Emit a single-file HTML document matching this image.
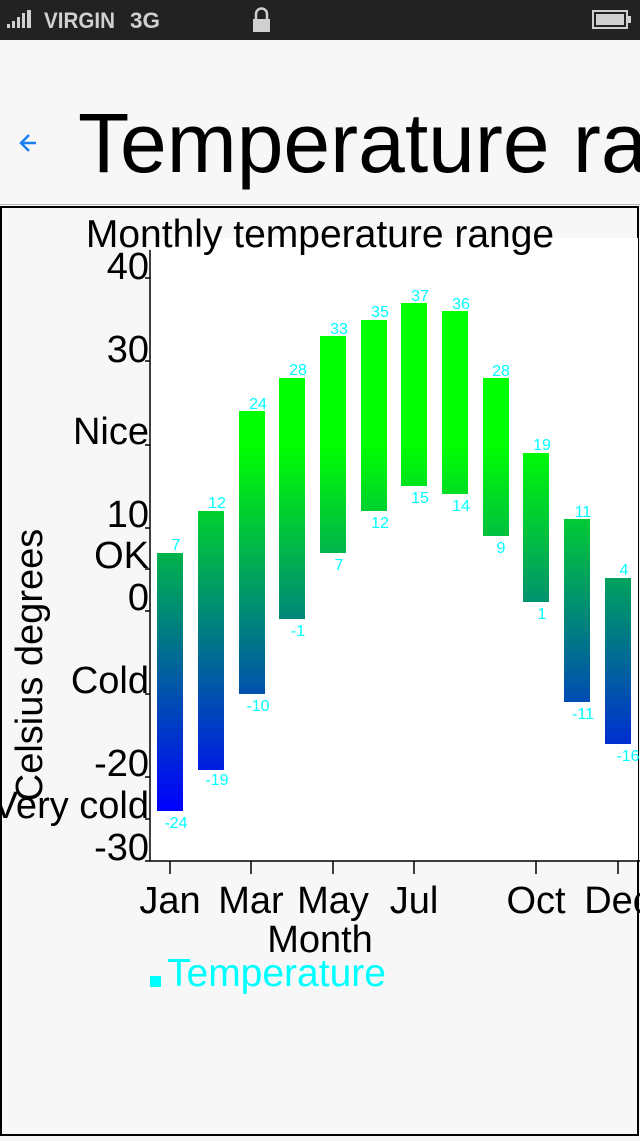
<!DOCTYPE html>
<html><head><style>
body{margin:0;width:640px;height:1136px;overflow:hidden;background:#f7f7f7;font-family:"Liberation Sans",sans-serif;}
</style></head><body>
<svg width="640" height="1136" xmlns="http://www.w3.org/2000/svg" font-family="Liberation Sans, sans-serif">
<defs>
<linearGradient id="g" gradientUnits="userSpaceOnUse" x1="0" y1="445" x2="0" y2="811">
<stop offset="0" stop-color="#00ff00"/><stop offset="1" stop-color="#0000ff"/>
</linearGradient>
</defs>
<rect x="0" y="0" width="640" height="40" fill="#222"/>
<g fill="#d0d0d0">
<rect x="7" y="24" width="3" height="4"/><rect x="12" y="21" width="3" height="7"/><rect x="17" y="17" width="3" height="11"/><rect x="22" y="13" width="3" height="15"/><rect x="27" y="10" width="4" height="18"/>
<text x="44" y="28" font-size="22" font-weight="bold" textLength="71" lengthAdjust="spacingAndGlyphs">VIRGIN</text>
<text x="130" y="28" font-size="22" font-weight="bold" textLength="30" lengthAdjust="spacingAndGlyphs">3G</text>
<rect x="253" y="19" width="17" height="13"/>
<path d="M256 19v-5a5 5 0 0 1 11 0v5" fill="none" stroke="#d0d0d0" stroke-width="2.5"/>
<rect x="593" y="11" width="34" height="17" fill="none" stroke="#d0d0d0" stroke-width="2"/>
<rect x="596" y="14" width="28" height="11"/><rect x="628" y="16" width="3" height="7"/>
</g>
<rect x="0" y="40" width="640" height="164" fill="#f7f7f7"/>
<line x1="0" y1="204.5" x2="640" y2="204.5" stroke="#bbb"/>
<path d="M36 143H21M29 135l-8 8 8 8" fill="none" stroke="#1a7ff0" stroke-width="2.5"/>
<text x="78" y="172" font-size="84">Temperature range</text>
<rect x="1" y="207" width="637" height="928" fill="#f7f7f7" stroke="#000" stroke-width="2"/>
<rect x="150" y="238" width="488" height="622" fill="#fff"/>
<text x="320" y="247" font-size="39" text-anchor="middle">Monthly temperature range</text>
<g fill="url(#g)">
<rect x="157" y="553" width="26" height="258"/>
<rect x="198" y="511" width="26" height="259"/>
<rect x="239" y="411" width="26" height="283"/>
<rect x="279" y="378" width="26" height="241"/>
<rect x="320" y="336" width="26" height="217"/>
<rect x="361" y="320" width="26" height="191"/>
<rect x="401" y="303" width="26" height="183"/>
<rect x="442" y="311" width="26" height="183"/>
<rect x="483" y="378" width="26" height="158"/>
<rect x="523" y="453" width="26" height="149"/>
<rect x="564" y="519" width="26" height="183"/>
<rect x="605" y="578" width="26" height="166"/>
</g>
<g fill="#00ffff" font-size="16" text-anchor="middle">
<text x="176" y="550">7</text><text x="176" y="828">-24</text>
<text x="217" y="508">12</text><text x="217" y="785">-19</text>
<text x="258" y="409">24</text><text x="258" y="711">-10</text>
<text x="298" y="375">28</text><text x="298" y="636">-1</text>
<text x="339" y="334">33</text><text x="339" y="570">7</text>
<text x="380" y="317">35</text><text x="380" y="528">12</text>
<text x="420" y="301">37</text><text x="420" y="503">15</text>
<text x="461" y="309">36</text><text x="461" y="511">14</text>
<text x="501" y="376">28</text><text x="501" y="553">9</text>
<text x="542" y="450">19</text><text x="542" y="619">1</text>
<text x="583" y="517">11</text><text x="583" y="719">-11</text>
<text x="624" y="575">4</text><text x="628" y="761">-16</text>
</g>
<g stroke="#000" stroke-width="1.5">
<line x1="150" y1="250" x2="150" y2="861"/>
<line x1="150" y1="861" x2="640" y2="861"/>
<line x1="145" y1="278" x2="150" y2="278"/><line x1="145" y1="361" x2="150" y2="361"/><line x1="145" y1="445" x2="150" y2="445"/><line x1="145" y1="528" x2="150" y2="528"/><line x1="145" y1="569" x2="150" y2="569"/><line x1="145" y1="611" x2="150" y2="611"/><line x1="145" y1="694" x2="150" y2="694"/><line x1="145" y1="777" x2="150" y2="777"/><line x1="145" y1="819" x2="150" y2="819"/><line x1="145" y1="861" x2="150" y2="861"/>
<line x1="170" y1="861" x2="170" y2="874"/><line x1="251" y1="861" x2="251" y2="874"/><line x1="333" y1="861" x2="333" y2="874"/><line x1="414" y1="861" x2="414" y2="874"/><line x1="536" y1="861" x2="536" y2="874"/><line x1="618" y1="861" x2="618" y2="874"/>
</g>
<g font-size="38" text-anchor="end">
<text x="149" y="279">40</text><text x="149" y="362">30</text><text x="149" y="444">Nice</text><text x="149" y="527">10</text><text x="149" y="568">OK</text><text x="149" y="610">0</text><text x="149" y="693">Cold</text><text x="149" y="776">-20</text><text x="149" y="818">Very cold</text><text x="149" y="860">-30</text>
</g>
<g font-size="38" text-anchor="middle">
<text x="170" y="913">Jan</text><text x="251" y="913">Mar</text><text x="333" y="913">May</text><text x="414" y="913">Jul</text><text x="536" y="913">Oct</text><text x="618" y="913">Dec</text>
<text x="320" y="952">Month</text>
</g>
<text transform="translate(42,665) rotate(-90)" font-size="38" text-anchor="middle">Celsius degrees</text>
<rect x="150" y="976" width="11" height="11" fill="#00ffff"/>
<text x="167" y="986" font-size="39" fill="#00ffff">Temperature</text>
</svg>
</body></html>
